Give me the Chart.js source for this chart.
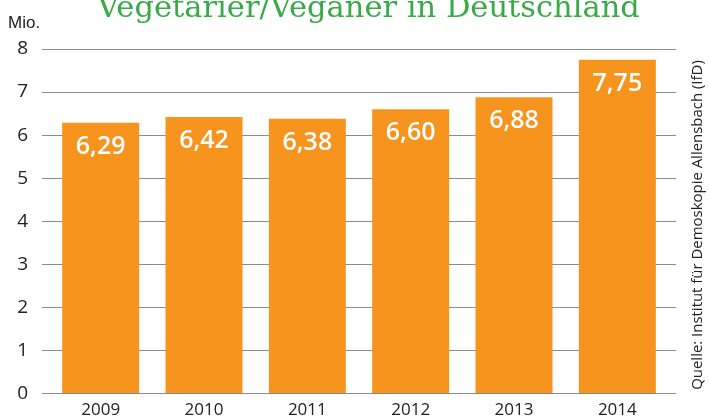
<!DOCTYPE html>
<html><head><meta charset="utf-8">
<script src="https://cdn.jsdelivr.net/npm/chart.js@4/dist/chart.umd.min.js"></script>
<style>html,body{margin:0;padding:0;background:#fff}#wrap{width:709px;height:419px;position:relative}</style>
</head><body><div id="wrap"><canvas id="c" width="709" height="419"></canvas></div>
<script>
const years = ['2009','2010','2011','2012','2013','2014'];
const values = [6.29, 6.42, 6.38, 6.60, 6.88, 7.75];
const yTicks = [0,1,2,3,4,5,6,7,8];
const titleText = 'Vegetarier/Veganer in Deutschland';
const unitText = 'Mio.';
const sourceText = 'Quelle: Institut für Demoskopie Allensbach (IfD)';

function fitFont(ctx, text, family, weight, targetWidth, baseSize) {
  ctx.font = weight + ' ' + baseSize + 'px ' + family;
  const w = ctx.measureText(text).width;
  const size = baseSize * targetWidth / w;
  ctx.font = weight + ' ' + size.toFixed(2) + 'px ' + family;
}

const extras = {
  id: 'extras',
  afterDatasetsDraw(chart) {
    const ctx = chart.ctx;
    const meta = chart.getDatasetMeta(0);
    ctx.save();
    ctx.fillStyle = '#ffffff';
    ctx.font = '600 25px "Open Sans"';
    ctx.textAlign = 'center';
    ctx.textBaseline = 'middle';
    meta.data.forEach((bar, i) => {
      ctx.fillText(values[i].toFixed(2).replace('.', ','), bar.x, bar.y + 24);
    });
    ctx.restore();
  },
  afterDraw(chart) {
    const ctx = chart.ctx;
    ctx.save();
    ctx.fillStyle = '#3aaa48';
    fitFont(ctx, titleText, '"DejaVu Serif"', 'normal', 543, 28);
    ctx.textAlign = 'center';
    ctx.textBaseline = 'alphabetic';
    ctx.fillText(titleText, 368.5, 17);
    ctx.fillStyle = '#222';
    ctx.font = '17px "Liberation Sans Narrow", "Liberation Sans"';
    ctx.textAlign = 'left';
    ctx.fillText(unitText, 8, 28);
    ctx.translate(698, 225);
    ctx.rotate(-Math.PI/2);
    ctx.textAlign = 'center';
    ctx.textBaseline = 'middle';
    fitFont(ctx, sourceText, '"Open Sans"', 'normal', 330, 14);
    ctx.fillStyle = '#222';
    ctx.fillText(sourceText, 0, 0);
    ctx.restore();
  }
};

new Chart(document.getElementById('c'), {
  type: 'bar',
  data: { labels: years, datasets: [{ data: values, backgroundColor: '#f7941d', barPercentage: 0.745, categoryPercentage: 1.0 }] },
  options: {
    responsive: false, animation: false,
    layout: { padding: { top: 49, left: 0, right: 0, bottom: 0 } },
    plugins: { legend: { display: false }, tooltip: { enabled: false } },
    scales: {
      x: {
        grid: { display: false, drawTicks: false }, border: { display: false },
        ticks: { color: '#222', font: { family: 'Open Sans', size: 17 }, padding: 6 },
        afterFit(s) { s.height = 22; }
      },
      y: {
        position: 'left', min: 0, max: 8,
        afterBuildTicks(s) { s.ticks = yTicks.map(v => ({ value: v })); },
        grid: { color: '#8c8c8c', lineWidth: 1, tickLength: 7 },
        border: { display: false },
        ticks: { color: '#222', font: { family: 'Open Sans', size: 19 }, padding: 14 },
        afterFit(s) { s.width = 49; }
      },
      y2: {
        position: 'right', min: 0, max: 8,
        afterBuildTicks(s) { s.ticks = yTicks.map(v => ({ value: v })); },
        grid: { color: '#8c8c8c', lineWidth: 1, tickLength: 7, drawOnChartArea: false },
        border: { display: false },
        ticks: { display: false },
        afterFit(s) { s.width = 40; }
      }
    }
  },
  plugins: [extras]
});
</script></body></html>
